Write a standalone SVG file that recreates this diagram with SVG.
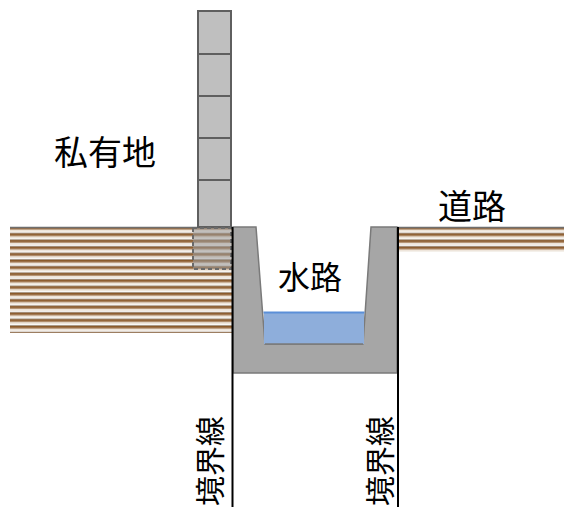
<svg xmlns="http://www.w3.org/2000/svg" width="564" height="507" viewBox="0 0 564 507">
  <defs>
    <!-- layered soil stripes -->
    <pattern id="soil" patternUnits="userSpaceOnUse" x="0" y="227" width="10" height="6.6">
      <rect x="0" y="0" width="10" height="6.6" fill="#ffffff"/>
      <rect x="0" y="0" width="10" height="1.8" fill="#8b5a2b"/>
      <rect x="0" y="1.8" width="10" height="1.2" fill="#b89878"/>
      <rect x="0" y="3.0" width="10" height="1.6" fill="#ece2d6"/>
      <rect x="0" y="4.6" width="10" height="1.0" fill="#ffffff"/>
      <rect x="0" y="5.6" width="10" height="1.0" fill="#a89684"/>
    </pattern>
  </defs>
  <style>
    .label { font-family: "Noto Sans CJK JP", "Noto Sans", sans-serif; fill: #000000; }
    .block { fill: #bfbfbf; stroke: #5f5f5f; stroke-width: 2; }
    .bound { stroke: #000000; stroke-width: 2; fill: none; }
  </style>

  <!-- private land ground -->
  <g id="ground-left">
    <rect x="10" y="227" width="222" height="106" fill="url(#soil)"/>
    <line x1="10" y1="227.5" x2="232" y2="227.5" stroke="#6e6e6e" stroke-width="1.5"/>
  </g>

  <!-- road ground -->
  <g id="ground-right">
    <rect x="398" y="227" width="166" height="25" fill="url(#soil)"/>
    <line x1="398" y1="227.5" x2="564" y2="227.5" stroke="#6e6e6e" stroke-width="1.5"/>
  </g>

  <!-- block wall -->
  <g id="wall">
    <rect class="block" x="198" y="11" width="33" height="43"/>
    <rect class="block" x="198" y="54" width="33" height="42"/>
    <rect class="block" x="198" y="96" width="33" height="42"/>
    <rect class="block" x="198" y="138" width="33" height="42"/>
    <rect class="block" x="198" y="180" width="33" height="47"/>
    <!-- buried footing -->
    <rect x="193" y="228" width="38" height="41" fill="#9a9a9a" fill-opacity="0.55" stroke="#6a6a6a" stroke-width="2" stroke-dasharray="4 3"/>
  </g>

  <!-- U-shaped channel -->
  <g id="channel">
    <path d="M233 227 L256 227 L265 344 L363 344 L371 227 L397 227 L397 373 L233 373 Z" fill="#a6a6a6" stroke="#7a7a7a" stroke-width="1.5"/>
    <rect x="264" y="312" width="100" height="32" fill="#8eaedb"/>
    <line x1="263.5" y1="312.5" x2="364.5" y2="312.5" stroke="#5b8fd8" stroke-width="2"/>
    <path d="M265 344 L363 344" stroke="#7a7a7a" stroke-width="1.5"/>
  </g>

  <!-- boundary lines -->
  <g id="connectors">
    <line class="bound" x1="232.5" y1="227" x2="232.5" y2="507"/>
    <line class="bound" x1="398" y1="227" x2="398" y2="507"/>
  </g>

  <g id="label-private">
    <text class="label" x="105" y="165" font-size="34" text-anchor="middle">私有地</text>
  </g>
  <g id="label-road">
    <text class="label" x="472" y="219" font-size="34" text-anchor="middle">道路</text>
  </g>
  <g id="label-channel">
    <text class="label" x="310" y="289" font-size="32" text-anchor="middle">水路</text>
  </g>
  <g id="label-boundary-left">
    <text class="label" font-size="30" text-anchor="middle" dominant-baseline="central" transform="translate(208 461) rotate(-90)">境界線</text>
  </g>
  <g id="label-boundary-right">
    <text class="label" font-size="30" text-anchor="middle" dominant-baseline="central" transform="translate(378 461) rotate(-90)">境界線</text>
  </g>
</svg>
